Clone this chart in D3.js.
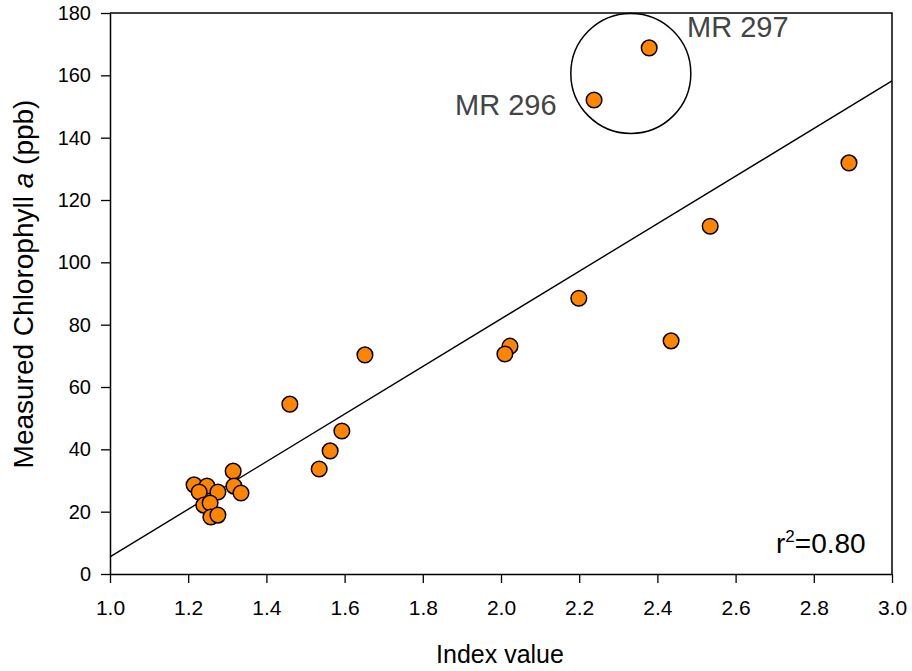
<!DOCTYPE html>
<html>
<head>
<meta charset="utf-8">
<script src="https://cdn.jsdelivr.net/npm/d3@7"></script>
<style>
  body { margin: 0; background: #fff; }
  svg { display: block; font-family: "Liberation Sans", Arial, sans-serif; }
</style>
</head>
<body>
<svg id="chart" width="912" height="671"></svg>
<script>
// Index value vs measured chlorophyll a
const indexValues = [2.890, 2.535, 2.379, 2.238, 2.199, 2.435, 2.023, 2.010, 1.652, 1.460,
                     1.593, 1.563, 1.535, 1.315, 1.317, 1.335,
                     1.215, 1.248, 1.228, 1.276, 1.240, 1.256, 1.258, 1.276];
const chlorophyll = [131.9, 111.6, 168.8, 152.1, 88.5, 74.8, 73.1, 70.6, 70.3, 54.5,
                     45.9, 39.5, 33.7, 33.0, 28.2, 26.0,
                     28.6, 28.2, 26.3, 26.3, 22.1, 22.8, 18.3, 18.9];

// Linear fit endpoints
const fitX = [1.0, 3.0];
const fitY = [5.5, 158.2];

const xTicks = [1.0, 1.2, 1.4, 1.6, 1.8, 2.0, 2.2, 2.4, 2.6, 2.8, 3.0];
const yTicks = [0, 20, 40, 60, 80, 100, 120, 140, 160, 180];

// Highlighted outliers
const outlierLabels = ["MR 297", "MR 296"];
const outlierCenter = [2.332, 160.6];

const svg = d3.select("#chart");
const plotLeft = 110, plotRight = 892, plotTop = 13, plotBottom = 574;

const x = d3.scaleLinear().domain([1.0, 3.0]).range([plotLeft, plotRight]);
const y = d3.scaleLinear().domain([0, 180]).range([plotBottom, plotTop]);

// frame (top and right edges)
svg.append("path")
  .attr("d", `M${plotLeft},${plotTop}H${plotRight}V${plotBottom}`)
  .attr("fill", "none").attr("stroke", "#000").attr("stroke-width", 1.5);

// axes
const xAxis = svg.append("g").attr("transform", `translate(0,${plotBottom})`)
  .call(d3.axisBottom(x).tickValues(xTicks).tickFormat(d3.format(".1f")).tickSize(9).tickSizeOuter(0));
const yAxis = svg.append("g").attr("transform", `translate(${plotLeft},0)`)
  .call(d3.axisLeft(y).tickValues(yTicks).tickFormat(d3.format("d")).tickSize(9).tickSizeOuter(0));

[xAxis, yAxis].forEach(g => {
  g.select(".domain").attr("stroke", "#000").attr("stroke-width", 1.5);
  g.selectAll(".tick line").attr("stroke", "#000").attr("stroke-width", 1.3);
  g.selectAll(".tick text").attr("fill", "#000")
    .style("font-family", "'Liberation Sans', Arial, sans-serif");
});
xAxis.selectAll(".tick text").style("font-size", "21px").attr("dy", 0).attr("y", 41);
yAxis.selectAll(".tick text").style("font-size", "20px").attr("x", -19);

// axis titles
svg.append("text")
  .attr("x", (plotLeft + plotRight) / 2 - 1).attr("y", 663)
  .attr("text-anchor", "middle").style("font-size", "25px").attr("fill", "#000")
  .text("Index value");

const yt = svg.append("text")
  .attr("transform", `translate(33,284) rotate(-90)`)
  .attr("text-anchor", "middle").style("font-size", "28px").attr("fill", "#000");
yt.append("tspan").text("Measured Chlorophyll ");
yt.append("tspan").style("font-style", "italic").text("a");
yt.append("tspan").text(" (ppb)");

// regression line
svg.append("line")
  .attr("x1", x(fitX[0])).attr("y1", y(fitY[0]))
  .attr("x2", x(fitX[1])).attr("y2", y(fitY[1]))
  .attr("stroke", "#000").attr("stroke-width", 1.4);

// points
svg.append("g").selectAll("circle")
  .data(indexValues.map((v, i) => [v, chlorophyll[i]]))
  .join("circle")
  .attr("cx", d => x(d[0])).attr("cy", d => y(d[1]))
  .attr("r", 7.8)
  .attr("fill", "#ff8500").attr("stroke", "#000").attr("stroke-width", 1.5);

// outlier ring and labels
svg.append("circle")
  .attr("cx", x(outlierCenter[0])).attr("cy", y(outlierCenter[1]))
  .attr("r", 60)
  .attr("fill", "none").attr("stroke", "#000").attr("stroke-width", 1.5);

svg.append("text").attr("x", 687).attr("y", 37)
  .style("font-size", "29px").attr("fill", "#444").text(outlierLabels[0]);
svg.append("text").attr("x", 455).attr("y", 115)
  .style("font-size", "29px").attr("fill", "#444").text(outlierLabels[1]);

// coefficient of determination
const r2 = svg.append("text").attr("x", 776).attr("y", 553)
  .style("font-size", "28px").attr("fill", "#000");
r2.append("tspan").text("r");
r2.append("tspan").attr("dy", -11).style("font-size", "17px").text("2");
r2.append("tspan").attr("dy", 11).text("=0.80");
</script>
</body>
</html>
